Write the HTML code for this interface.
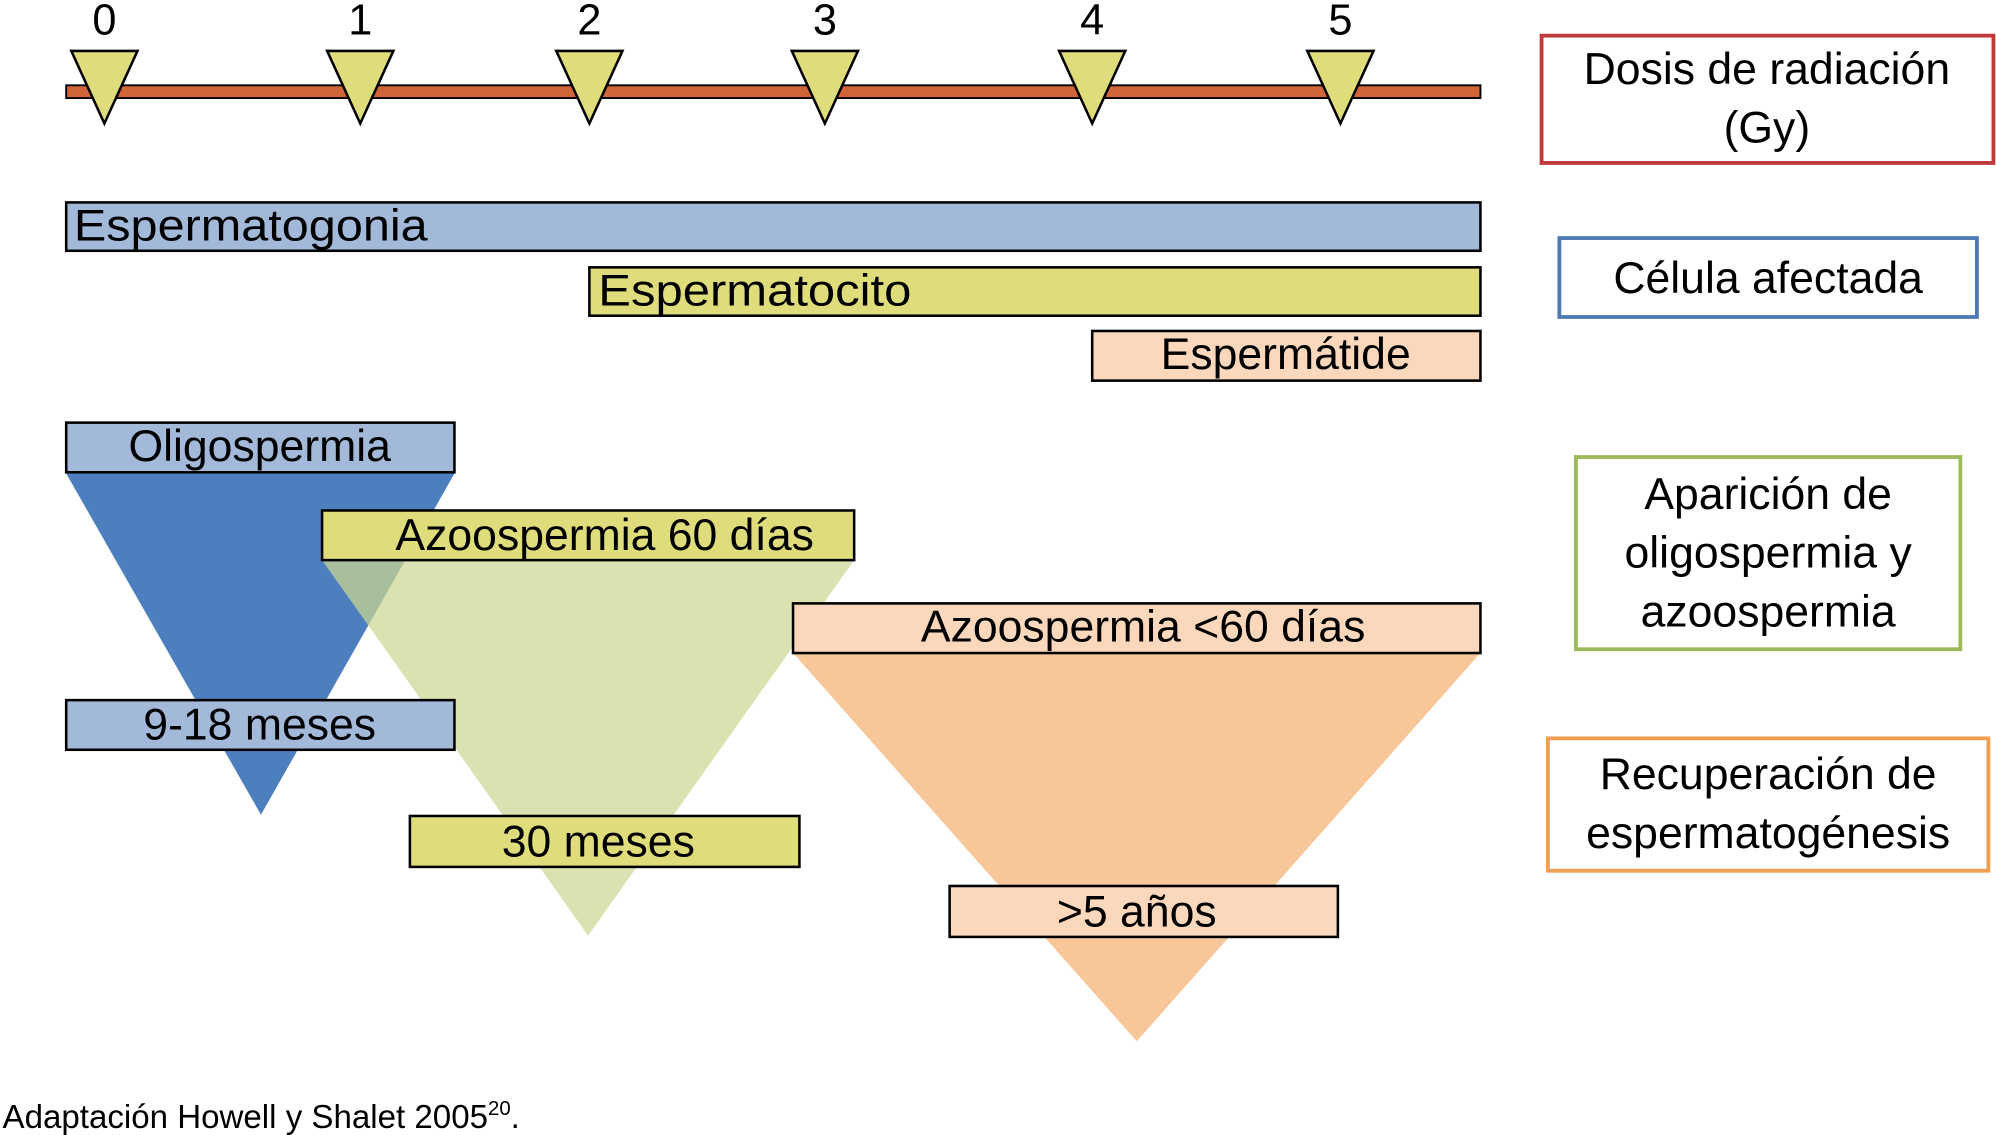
<!DOCTYPE html>
<html><head><meta charset="utf-8"><style>
html,body{margin:0;padding:0;background:#fff;}
svg{display:block;}
text{font-family:"Liberation Sans",sans-serif;fill:#000;}
</style></head><body>
<svg width="1996" height="1135" viewBox="0 0 1568 891.6" xmlns="http://www.w3.org/2000/svg">
<g stroke="#000" stroke-width="2">
<rect x="52" y="67" width="1111" height="10" fill="#d2643a" stroke-width="1.5"/>
<polygon points="56,40 108,40 82,97" fill="#dfdd7b"/>
<polygon points="257,40 309,40 283,97" fill="#dfdd7b"/>
<polygon points="437,40 489,40 463,97" fill="#dfdd7b"/>
<polygon points="622,40 674,40 648,97" fill="#dfdd7b"/>
<polygon points="832,40 884,40 858,97" fill="#dfdd7b"/>
<polygon points="1027,40 1079,40 1053,97" fill="#dfdd7b"/>
<rect x="52" y="159" width="1111" height="38" fill="#a3b9da"/>
<rect x="463" y="210" width="700" height="38" fill="#dfdd7b"/>
<rect x="858" y="260" width="305" height="39" fill="#fbd8bb"/>
</g>
<g font-size="34" text-anchor="middle">
<text x="82" y="27">0</text><text x="283" y="27">1</text><text x="463" y="27">2</text>
<text x="648" y="27">3</text><text x="858" y="27">4</text><text x="1053" y="27">5</text>
</g>
<g font-size="35">
<text x="58" y="189" textLength="278" lengthAdjust="spacingAndGlyphs">Espermatogonia</text>
<text x="470" y="240" textLength="246" lengthAdjust="spacingAndGlyphs">Espermatocito</text>
<text x="1010" y="290" text-anchor="middle">Espermátide</text>
</g>
<polygon points="52,372 357,372 205,640" fill="#4d7fbf"/>
<polygon points="253,440 671,440 462,735" fill="rgb(203,215,146)" fill-opacity="0.725"/>
<polygon points="623,513 1163,513 893,818" fill="#f8c799"/>
<g stroke="#000" stroke-width="2">
<rect x="52" y="332" width="305" height="39" fill="#a3b9da"/>
<rect x="253" y="401" width="418" height="39" fill="#dfdd7b"/>
<rect x="623" y="474" width="540" height="39" fill="#fbd8bb"/>
<rect x="52" y="550" width="305" height="39" fill="#a3b9da"/>
<rect x="322" y="641" width="306" height="40" fill="#dfdd7b"/>
<rect x="746" y="696" width="305" height="40" fill="#fbd8bb"/>
</g>
<g font-size="35" text-anchor="middle">
<text x="204" y="362">Oligospermia</text>
<text x="475" y="432">Azoospermia 60 días</text>
<text x="898" y="504">Azoospermia &lt;60 días</text>
<text x="204" y="581">9-18 meses</text>
<text x="470" y="673">30 meses</text>
<text x="893" y="728">&gt;5 años</text>
</g>
<g fill="none" stroke-width="3">
<rect x="1211" y="28" width="355" height="100" stroke="#c0393b"/>
<rect x="1225" y="187" width="328" height="62" stroke="#4f79b5"/>
<rect x="1238" y="359" width="302" height="151" stroke="#9bbb59"/>
<rect x="1216" y="580" width="346" height="104" stroke="#f0a050"/>
</g>
<g font-size="35" text-anchor="middle">
<text x="1388" y="66">Dosis de radiación</text>
<text x="1388" y="112">(Gy)</text>
<text x="1389" y="230">Célula afectada</text>
<text x="1389" y="400">Aparición de</text>
<text x="1389" y="446">oligospermia y</text>
<text x="1389" y="492">azoospermia</text>
<text x="1389" y="620">Recuperación de</text>
<text x="1389" y="666">espermatogénesis</text>
</g>
<text x="2" y="886" font-size="26">Adaptación Howell y Shalet 2005<tspan font-size="16" dy="-10">20</tspan><tspan dy="10">.</tspan></text>
</svg>
</body></html>
